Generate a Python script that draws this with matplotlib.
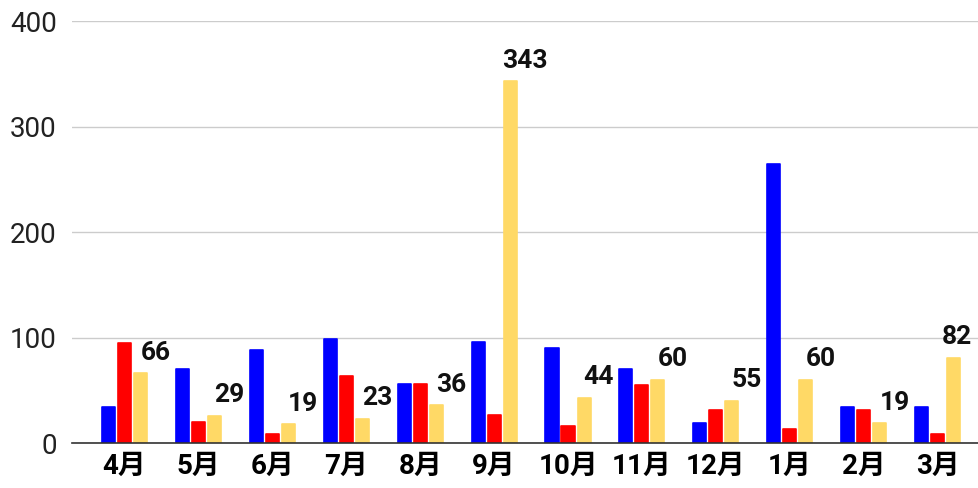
import matplotlib
matplotlib.use('Agg')

import matplotlib.pyplot as plt
import numpy as np

months = ['4月', '5月', '6月', '7月', '8月', '9月', '10月', '11月', '12月', '1月', '2月', '3月']
blue_vals = [34, 70, 88, 99, 56, 96, 90, 70, 19, 265, 34, 34]
red_vals = [95, 20, 9, 64, 56, 27, 16, 55, 31, 13, 31, 9]
yellow_vals = [66, 26, 18, 23, 36, 343, 43, 60, 40, 60, 19, 81]
labels = ['66', '29', '19', '23', '36', '343', '44', '60', '55', '60', '19', '82']

cjk = ['Roboto', 'Noto Sans CJK JP', 'DejaVu Sans']

fig = plt.figure(figsize=(9.79, 4.88), dpi=100)
ax = fig.add_axes([72 / 979, 1 - 443 / 488, 1 - 72 / 979, (443 - 21.3) / 488])

x = np.arange(len(months))
w = 0.176
step = 0.2165
xmax = 11.56
series = [(blue_vals, '#0000ff', -step), (red_vals, '#ff0000', 0), (yellow_vals, '#ffd966', step)]
for vals, col, off in series:
    ax.bar(x + off, vals, width=w, color=col, edgecolor=col, linewidth=1.2,
           joinstyle='round', zorder=3)

for xi, v, lab in zip(x, yellow_vals, labels):
    tx = min(xi + step + 0.2, xmax - 0.3)
    ax.annotate(lab, (tx, v), xytext=(0, 6), textcoords='offset points',
                ha='center', va='bottom', fontsize=19, fontweight='bold',
                family=cjk, color='#111111', zorder=4, annotation_clip=False)

ax.set_xlim(-0.71, xmax)
ax.set_ylim(0, 400)
ax.set_yticks([0, 100, 200, 300, 400])
ax.set_xticks(x)
ax.set_xticklabels(months, fontweight='bold', fontsize=20, family=cjk)
for t in ax.get_yticklabels():
    t.set_family(cjk)
    t.set_fontsize(20)
    t.set_color('#222222')
ax.tick_params(axis='both', length=0)
ax.tick_params(axis='y', pad=11)
ax.tick_params(axis='x', pad=7)

ax.grid(axis='y', color='#cccccc', linewidth=1, zorder=0)
for s in ['top', 'right', 'left']:
    ax.spines[s].set_visible(False)
ax.spines['bottom'].set_color('#333333')
ax.spines['bottom'].set_linewidth(1.2)
ax.spines['bottom'].set_zorder(5)

fig.savefig('out.png', dpi=100)
